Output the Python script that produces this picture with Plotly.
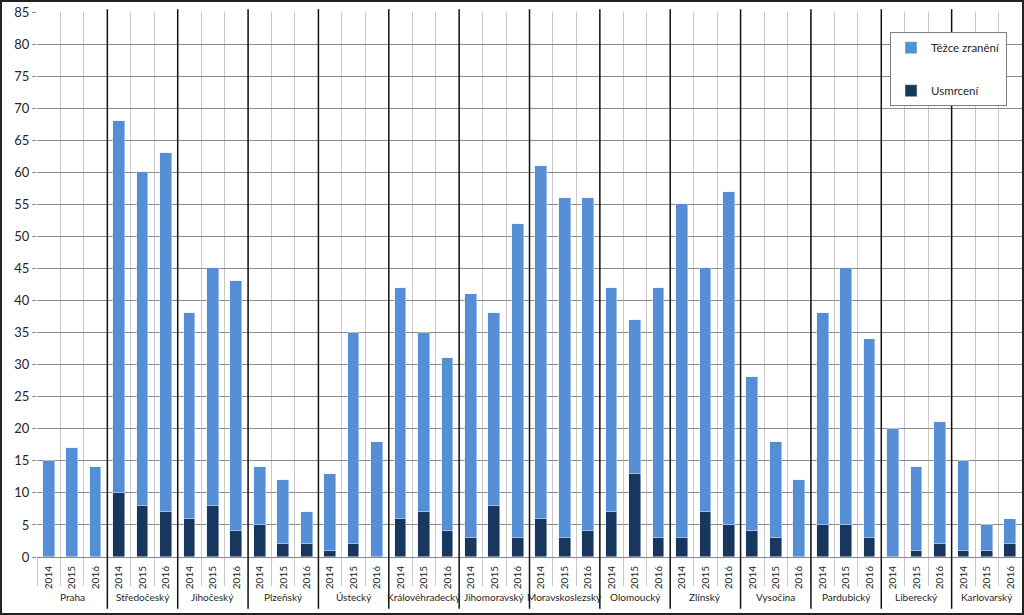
import plotly.graph_objects as go

regions = ["Praha", "Středočeský", "Jihočeský", "Plzeňský", "Ústecký", "Královéhradecký",
           "Jihomoravský", "Moravskoslezský", "Olomoucký", "Zlínský", "Vysočina",
           "Pardubický", "Liberecký", "Karlovarský"]
years = ["2014", "2015", "2016"]

# usmrceni per region, years 2014..2016
usmrceni = [0, 0, 0,  10, 8, 7,  6, 8, 4,  5, 2, 2,  1, 2, 0,  6, 7, 4,  3, 8, 3,
            6, 3, 4,  7, 13, 3,  3, 7, 5,  4, 3, 0,  5, 5, 3,  0, 1, 2,  1, 1, 2]
# tezce zraneni (stacked on top)
tezce = [15, 17, 14,  58, 52, 56,  32, 37, 39,  9, 10, 5,  12, 33, 18,  36, 28, 27,  38, 30, 49,
         55, 53, 52,  35, 24, 39,  52, 38, 52,  24, 15, 12,  33, 40, 31,  20, 13, 19,  14, 4, 4]

n = len(regions) * len(years)
xpos = list(range(n))
year_labels = years * len(regions)

fig = go.Figure()
fig.add_trace(go.Bar(x=xpos, y=usmrceni, name="Usmrcení", marker_color="#17375E",
                     width=0.5, legendrank=2, legendgroup="u"))
fig.add_trace(go.Bar(x=xpos, y=tezce, name="Těžce zranění", marker_color="#558ED5",
                     width=0.5, legendrank=1, legendgroup="t"))

# region names under the years
for i, r in enumerate(regions):
    fig.add_annotation(x=i * 3 + 1, y=-0.073, xref="x", yref="paper", text=r,
                       showarrow=False, yanchor="middle",
                       font=dict(size=10, color="#262626"))

# black separators between regions
for i in range(1, len(regions)):
    fig.add_shape(type="line", xref="x", yref="paper", x0=i * 3 - 0.5, x1=i * 3 - 0.5,
                  y0=-0.095, y1=1.005, line=dict(color="#111111", width=1.5), layer="above")

# outer border
fig.add_shape(type="rect", xref="paper", yref="paper", x0=-36 / 985, x1=1 + 1 / 985,
              y0=-57 / 545, y1=1 + 11 / 545, line=dict(color="#222222", width=2))

fig.update_layout(
    barmode="stack",
    width=1024, height=615,
    margin=dict(l=37, r=2, t=12, b=58),
    plot_bgcolor="white", paper_bgcolor="white",
    font=dict(family="Lato, Open Sans, sans-serif", color="#262626"),
    showlegend=True,
    legend=dict(x=0.866, y=0.963, xanchor="left", yanchor="top",
                traceorder="grouped", tracegroupgap=24, itemwidth=30,
                bgcolor="white", bordercolor="#7f7f7f", borderwidth=1,
                font=dict(size=11.5, color="#262626")),
    bargap=0,
)
fig.update_xaxes(
    range=[-0.5, n - 0.5], tickmode="array", tickvals=xpos, ticktext=year_labels,
    tickangle=-90, tickfont=dict(size=10), ticks="outside", ticklen=4,
    tickcolor="rgba(0,0,0,0)", showgrid=False, zeroline=False,
    showline=True, linecolor="#868686",
    minor=dict(tickmode="array", tickvals=[i - 0.5 for i in range(n + 1)],
               showgrid=True, gridcolor="#c8c8c8", gridwidth=1,
               ticks="outside", ticklen=28, tickcolor="#c8c8c8"),
)
fig.update_yaxes(
    range=[0, 85], dtick=5, tick0=0, showgrid=True, gridcolor="#8c8c8c", gridwidth=1,
    ticks="outside", ticklen=4, tickcolor="#8c8c8c", tickfont=dict(size=13),
    zeroline=False, showline=False,
)

fig.write_html("out.html", config={"displayModeBar": False},
               post_script="document.body.style.margin='0';")
